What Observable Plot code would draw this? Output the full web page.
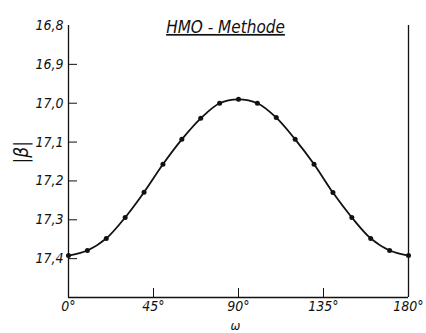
<!DOCTYPE html>
<html><head><meta charset="utf-8">
<script src="https://cdn.jsdelivr.net/npm/d3@7"></script>
<script src="https://cdn.jsdelivr.net/npm/@observablehq/plot@0.6"></script>
<style>body{margin:0;background:#fff}</style>
</head><body><div id="chart"></div>
<script>
const omega = [0,10,20,30,40,50,60,70,80,90,100,110,120,130,140,150,160,170,180];
const beta = [17.392,17.379,17.348,17.294,17.229,17.157,17.093,17.039,17.000,16.990,17.000,17.037,17.093,17.157,17.230,17.294,17.348,17.379,17.392];
const yTicks = [16.8,16.9,17.0,17.1,17.2,17.3,17.4];
const yTickMarks = [16.9,17.0,17.1,17.2,17.3,17.4];
const xTicks = [0,45,90,135,180];
const xTickMarks = [45,90,135];
const titleText = "HMO - Methode";
const xLabel = "ω";
const yLabel = "|β|";

const data = omega.map((o, i) => ({omega: o, beta: beta[i]}));
const FONT = "'Liberation Sans Narrow', 'DejaVu Sans Condensed', 'Liberation Sans', sans-serif";
const ink = "#111";

const plot = Plot.plot({
  width: 426, height: 333,
  marginLeft: 68, marginRight: 18, marginTop: 25, marginBottom: 36,
  x: {domain: [0, 180]},
  y: {domain: [16.8, 17.5], reverse: true},
  style: {fontFamily: FONT, fontStyle: "italic", color: ink, background: "#fff"},
  marks: [
    Plot.ruleX([0, 180], {stroke: ink, strokeWidth: 1.3}),
    Plot.ruleY([17.5], {stroke: ink, strokeWidth: 1.3}),
    Plot.tickY(yTickMarks, {y: d => d, insetRight: 331, stroke: ink, strokeWidth: 1}),
    Plot.tickX(xTickMarks, {x: d => d, insetTop: 263, stroke: ink, strokeWidth: 1}),
    Plot.axisY({ticks: yTicks, tickFormat: d => d.toFixed(1).replace(".", ","), tickSize: 0, tickPadding: 5, fontSize: 14, label: null}),
    Plot.axisX({ticks: xTicks, tickFormat: d => d + "°", tickSize: 0, tickPadding: 4, fontSize: 14, label: null}),
    Plot.line(data, {x: "omega", y: "beta", curve: "catmull-rom", stroke: ink, strokeWidth: 1.8}),
    Plot.dot(data, {x: "omega", y: "beta", r: 2.5, fill: ink, stroke: null}),
    Plot.text([titleText], {frameAnchor: "top", dx: -13, dy: 2, lineAnchor: "middle", fontSize: 17, fill: ink}),
    Plot.text([xLabel], {frameAnchor: "bottom", dx: -3, dy: 28.5, lineAnchor: "middle", fontSize: 13, fill: ink}),
    Plot.text([yLabel], {frameAnchor: "left", rotate: -90, dx: -47, dy: 2, lineAnchor: "middle", fontSize: 19, fill: ink})
  ]
});
d3.select(plot).selectAll("text").filter(function() { return this.textContent === titleText; })
  .style("text-decoration", "underline");
document.getElementById("chart").appendChild(plot);
</script>
</body></html>
